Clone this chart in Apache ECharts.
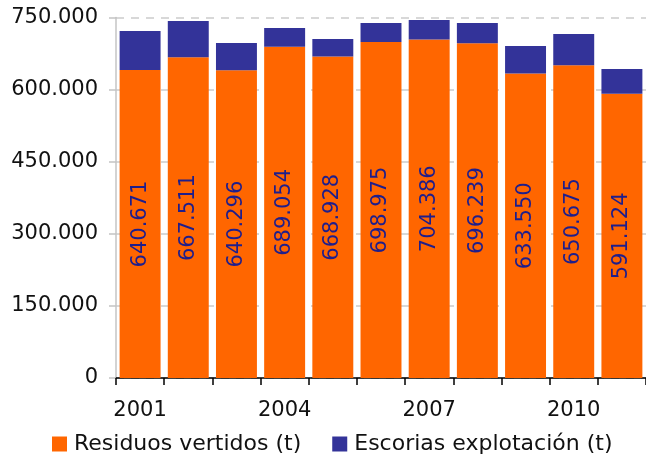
<!DOCTYPE html>
<html>
<head>
<meta charset="utf-8">
<script src="https://cdn.jsdelivr.net/npm/echarts@6/dist/echarts.min.js"></script>
<style>
html,body{margin:0;padding:0;background:#fff;}
#chart{width:646px;height:457px;}
</style>
</head>
<body>
<div id="chart"></div>
<script>
const years = ['2001','2002','2003','2004','2005','2006','2007','2008','2009','2010','2011'];
const residuos = [640671, 667511, 640296, 689054, 668928, 698975, 704386, 696239, 633550, 650675, 591124];
const escorias = [81000, 75200, 56700, 39100, 36300, 39600, 40400, 42300, 57200, 65000, 51700];
const seriesNames = ['Residuos vertidos (t)', 'Escorias explotación (t)'];
const yMax = 750000;
const yStep = 150000;

function fmt(v) {
  return String(Math.round(v)).replace(/\B(?=(\d{3})+(?!\d))/g, '.');
}

const FONT = 'DejaVu Sans';
const chart = echarts.init(document.getElementById('chart'), null, {renderer: 'canvas'});
chart.setOption({
  animation: false,
  textStyle: {fontFamily: FONT},
  grid: {left: 116, top: 17.5, width: 532, height: 360.5},
  legend: {
    left: 47, top: 428,
    itemWidth: 15, itemHeight: 15, itemGap: 31,
    icon: 'rect',
    textStyle: {fontFamily: FONT, fontSize: 22, color: '#111', padding: [0,0,0,2]},
    data: seriesNames
  },
  xAxis: {
    type: 'category',
    data: years,
    boundaryGap: true,
    axisLine: {lineStyle: {color: '#000', width: 1.5}},
    axisTick: {show: true, interval: 0, length: 7, lineStyle: {color: '#000', width: 1.5}},
    axisLabel: {interval: 2, margin: 22, fontFamily: FONT, fontSize: 21, color: '#111'},
    splitLine: {show: false}
  },
  yAxis: {
    type: 'value',
    min: 0, max: yMax, interval: yStep,
    axisLine: {show: true, lineStyle: {color: '#c4c4c4', width: 1.5}},
    axisTick: {show: true, length: 7, lineStyle: {color: '#c4c4c4', width: 1.5}},
    axisLabel: {margin: 18, fontFamily: FONT, fontSize: 21, color: '#111', formatter: fmt},
    splitLine: {show: true, lineStyle: {color: '#cccccc', width: 1.5, type: [8, 7]}}
  },
  series: [
    {
      name: seriesNames[0], type: 'bar', stack: 'total',
      data: residuos,
      barCategoryGap: '15%',
      itemStyle: {color: '#ff6600'},
      label: {
        show: true, position: 'inside', rotate: 90,
        fontFamily: FONT, fontSize: 21, color: '#1e1e8c',
        formatter: p => fmt(p.value)
      }
    },
    {
      name: seriesNames[1], type: 'bar', stack: 'total',
      data: escorias,
      barCategoryGap: '15%',
      itemStyle: {color: '#333399'}
    }
  ]
});
</script>
</body>
</html>
